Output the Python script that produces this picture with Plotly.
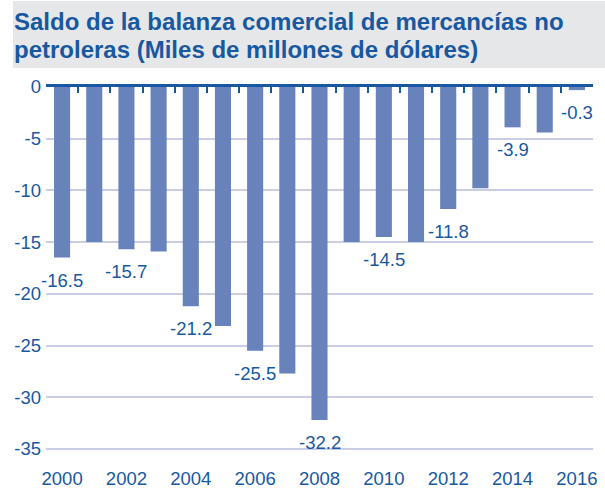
import plotly.graph_objects as go

years = list(range(2000, 2017))
values = [-16.5, -15.0, -15.7, -15.9, -21.2, -23.1, -25.5, -27.7, -32.2,
          -15.0, -14.5, -15.0, -11.8, -9.8, -3.9, -4.4, -0.3]
label_years = [2000, 2002, 2004, 2006, 2008, 2010, 2012, 2014, 2016]
x_tick_labels = [str(y) for y in label_years]
y_ticks = [0, -5, -10, -15, -20, -25, -30, -35]
y_tick_labels = ["0", "-5", "-10", "-15", "-20", "-25", "-30", "-35"]
title_lines = ["Saldo de la balanza comercial de mercancías no",
               "petroleras (Miles de millones de dólares)"]

BLUE = "#1858a0"
BAR = "#6882bb"
GRID = "#c9cee6"
FONT = "Liberation Sans, Arial, sans-serif"

W, H = 605, 493
ML, MR, MT, MB = 46, 12, 87, 42
PW, PH = W - ML - MR, H - MT - MB


def px_x(px):
    return (px - ML) / PW


def px_y(py):
    return (H - MB - py) / PH


fig = go.Figure()
fig.add_trace(go.Bar(x=years, y=values, marker=dict(color=BAR, line=dict(width=0)),
                     width=0.5, hoverinfo="x+y", showlegend=False, cliponaxis=False))
# invisible trace that activates the top axis (zero line with boundary ticks)
fig.add_trace(go.Scatter(x=[years[0]], y=[0], xaxis="x2", mode="markers",
                         marker=dict(opacity=0), hoverinfo="skip", showlegend=False))

for yr, v in zip(years, values):
    if yr in label_years:
        fig.add_annotation(x=yr, y=v, text=f"{v:.1f}", showarrow=False,
                           xanchor="center", yanchor="top", yshift=-10,
                           font=dict(size=18.5, color=BLUE, family=FONT))

fig.add_shape(type="rect", xref="paper", yref="paper",
              x0=px_x(13), x1=px_x(W + 5), y0=px_y(68), y1=px_y(1),
              fillcolor="#e6e7e8", line=dict(width=0), layer="below")

for line, cy in zip(title_lines, [22, 50]):
    fig.add_annotation(xref="paper", yref="paper", x=px_x(12), y=px_y(cy),
                       xanchor="left", yanchor="middle", showarrow=False,
                       text=f"<b>{line}</b>",
                       font=dict(size=24, color=BLUE, family=FONT))

fig.update_layout(
    width=W, height=H,
    margin=dict(l=ML, r=MR, t=MT, b=MB, autoexpand=False),
    paper_bgcolor="white", plot_bgcolor="white",
    font=dict(family=FONT, color=BLUE, size=18.5),
    xaxis=dict(range=[1999.5, 2016.5], tickvals=label_years, ticktext=x_tick_labels,
               showgrid=False, zeroline=False, showline=False, ticks="",
               ticklabelstandoff=14, automargin=False,
               tickfont=dict(size=18.5, color=BLUE)),
    xaxis2=dict(range=[1999.5, 2016.5], overlaying="x", side="top",
                tickvals=[y - 0.5 for y in years] + [years[-1] + 0.5],
                showticklabels=False, ticks="inside", ticklen=6, tickwidth=2,
                tickcolor=BLUE, showline=True, linecolor=BLUE, linewidth=2.5,
                showgrid=False, zeroline=False, automargin=False),
    yaxis=dict(range=[-35.2, 0], tickvals=y_ticks, ticktext=y_tick_labels,
               showgrid=True, gridcolor=GRID, gridwidth=1.5, zeroline=False,
               showline=False, ticks="", ticklabelstandoff=4, automargin=False,
               tickfont=dict(size=18.5, color=BLUE)),
)
fig.write_html("out.html", config={"displayModeBar": False},
               post_script="document.body.style.margin='0px';")
